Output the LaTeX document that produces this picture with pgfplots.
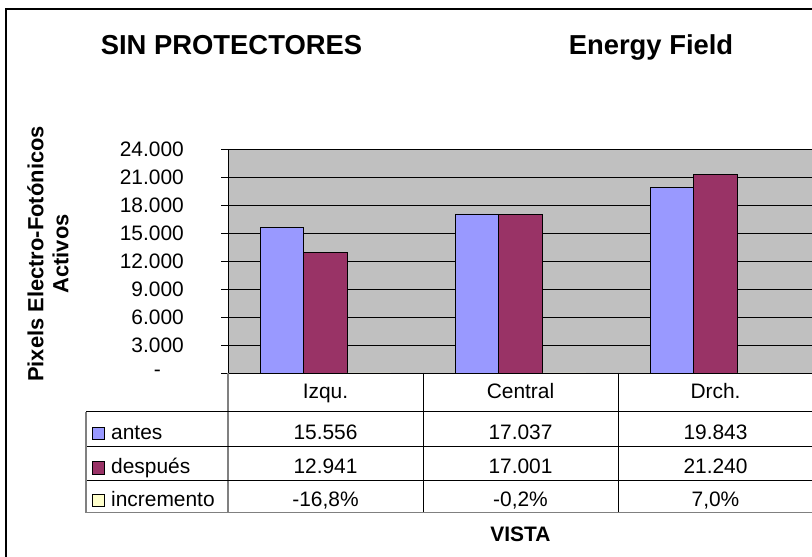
\documentclass[border=0pt]{standalone}
\usepackage{pgfplots}
\pgfplotsset{compat=1.18}
\usepackage{fontspec}
\setmainfont{Liberation Sans}
\definecolor{antes}{HTML}{9999FF}
\definecolor{despues}{HTML}{993366}
\definecolor{incr}{HTML}{FFFFCC}
\definecolor{plotgray}{HTML}{C0C0C0}
\definecolor{bordergray}{HTML}{808080}
\newcommand{\tf}{\fontsize{21}{25}\selectfont}
\newcommand{\titf}{\fontsize{27.5}{32}\selectfont\bfseries}
\begin{document}
\begin{tikzpicture}[x=1bp,y=1bp, tb/.style={font=\tf, anchor=base, inner sep=0pt}]
\useasboundingbox (0,0) rectangle (812,557);
\clip (0,0) rectangle (812,557);
% outer chart border (right and bottom fall outside the picture)
\draw[line width=1.2bp] (6,-20) -- (6,548) -- (840,548);
% titles
\node[font=\titf, anchor=base, inner sep=0pt] at (231.5,502) {SIN PROTECTORES};
\node[font=\titf, anchor=base, inner sep=0pt] at (651,502) {Energy Field};
% y label
\node[font=\fontsize{22}{25}\selectfont\bfseries, rotate=90, align=center] at (48,303) {Pixels Electro-Fotónicos\\Activos};
\begin{axis}[
  at={(228bp,184bp)}, anchor=south west,
  scale only axis, width=585bp, height=224bp,
  xmin=-0.5, xmax=2.5, ymin=0, ymax=24000,
  ybar=0pt, bar width=43.5bp,
  axis background/.style={fill=plotgray},
  ytick={0,3000,...,24000},
  scaled y ticks=false,
  yticklabels={-\hspace*{23bp},3.000,6.000,9.000,12.000,15.000,18.000,21.000,24.000},
  xtick=\empty,
  ymajorgrids, major grid style={black, line width=0.8bp},
  axis x line*=bottom, axis y line*=left,
  axis line style={black, line width=0.8bp},
  ytick align=outside, major tick length=7bp,
  tick style={black, line width=0.8bp},
  yticklabel style={font=\tf, anchor=east, inner sep=0pt, xshift=-37bp},
  clip=false,
]
\addplot[fill=antes, draw=black, line width=0.8bp] coordinates {(0,15556) (1,17037) (2,19843)};
\addplot[fill=despues, draw=black, line width=0.8bp] coordinates {(0,12941) (1,17001) (2,21240)};
\addplot[fill=incr, draw=black, line width=0.8bp] coordinates {(0,-0.168) (1,-0.002) (2,0.070)};
\end{axis}
% data table
\draw[bordergray, line width=1.2bp] (228,184) -- (228,44.3);
\draw[black, line width=0.8bp] (423,184) -- (423,44.3);
\draw[black, line width=0.8bp] (618,184) -- (618,44.3);
\draw[black, line width=0.8bp] (86,145.3) -- (830,145.3);
\draw[black, line width=0.8bp] (86,111) -- (830,111);
\draw[black, line width=0.8bp] (86,76.3) -- (830,76.3);
\draw[bordergray, line width=1.2bp] (86,44.3) -- (830,44.3);
\draw[bordergray, line width=1.2bp] (86,145.3) -- (86,44.3);
% header
\node[tb] at (325.5,158) {Izqu.};
\node[tb] at (520.5,158) {Central};
\node[tb] at (715.5,158) {Drch.};
% legend keys
\draw[fill=antes, line width=0.8bp] (92,117.5) rectangle (104.5,130);
\draw[fill=despues, line width=0.8bp] (92,83) rectangle (104.5,95.5);
\draw[fill=incr, line width=0.8bp] (92,50.3) rectangle (104.5,62.8);
\node[tb, anchor=base west] at (111,117) {antes};
\node[tb, anchor=base west] at (111,83) {después};
\node[tb, anchor=base west] at (111,50.3) {incremento};
% values
\node[tb] at (325.5,117) {15.556};
\node[tb] at (520.5,117) {17.037};
\node[tb] at (715.5,117) {19.843};
\node[tb] at (325.5,83) {12.941};
\node[tb] at (520.5,83) {17.001};
\node[tb] at (715.5,83) {21.240};
\node[tb] at (325.5,50.3) {-16,8\%};
\node[tb] at (520.5,50.3) {-0,2\%};
\node[tb] at (715.5,50.3) {7,0\%};
% x label
\node[font=\fontsize{21}{25}\selectfont\bfseries, anchor=base, inner sep=0pt] at (520.5,15.5) {VISTA};
\end{tikzpicture}
\end{document}
